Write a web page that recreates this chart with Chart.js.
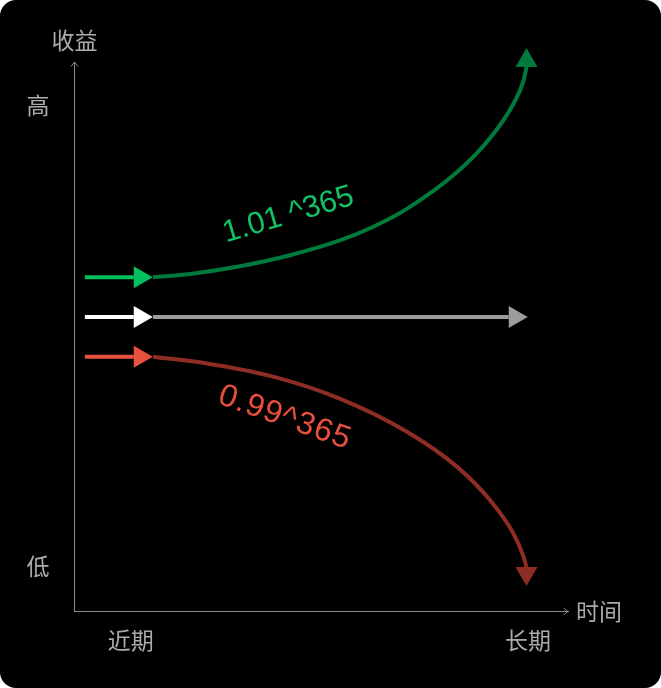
<!DOCTYPE html>
<html><head><meta charset="utf-8">
<script src="https://cdn.jsdelivr.net/npm/chart.js@4"></script>
<style>
html,body{margin:0;padding:0;background:#fff;}
#wrap{width:661px;height:688px;background:#000;border-radius:16px;overflow:hidden;}
canvas{display:block;}
</style></head><body>
<div id="wrap"><canvas id="c" width="661" height="688"></canvas></div>
<script>
// ---- data (time 0-100 on x, return 0-100 on y) ----
const xTitle = '时间';
const yTitle = '收益';
const xTickLabels = ['近期', '长期'];
const xTickValues = [11.5, 91.9];
const yTickLabels = ['高', '低'];
const yTickValues = [92.2, 8.2];

const leadX = [2.2, 12.1];
const upLevel = 60.8;
const flatLevel = 53.55;
const downLevel = 46.3;

const upX = [16.0, 23.5, 33.6, 43.7, 53.8, 60.6, 67.3, 77.5, 84.2, 88.9, 91.0, 91.6];
const upY = [60.8, 61.4, 62.8, 64.8, 67.5, 70.0, 73.2, 79.9, 86.1, 92.3, 96.6, 99.1];
const flatX = [16.0, 88.0];
const downX = [16.0, 26.9, 40.3, 53.8, 67.3, 77.5, 84.2, 88.9, 91.0, 91.6];
const downY = [46.3, 45.1, 42.7, 38.7, 32.7, 26.3, 20.2, 14.2, 9.9, 8.0];

const upLabel = '1.01 ^365';
const downLabel = '0.99^365';
const upLabelAt = [43.4, 72.1];
const downLabelAt = [42.65, 35.2];

// ---- build datasets ----
const pts = (xs, ys) => xs.map((x, i) => ({x, y: Array.isArray(ys) ? ys[i] : ys}));
const lineDs = (data, color, arrowDir, extra) => Object.assign({
  data, borderColor: color, backgroundColor: color, borderWidth: 4,
  showLine: true, pointRadius: 0, pointHoverRadius: 0, clip: false,
  arrowDir, arrowColor: color
}, extra || {});

const GREEN_LEAD = '#00c05e', GREEN = '#007a3c';
const WHITE = '#ffffff', GRAY = '#9c9c9c';
const RED_LEAD = '#e8503f', RED = '#8e2d24';
const AXIS = '#8a8a8a', LABEL = '#ababab';

const datasets = [
  lineDs(pts(upX, upY), GREEN, -90, {cubicInterpolationMode: 'monotone'}),
  lineDs(pts(flatX, flatLevel), GRAY, 0),
  lineDs(pts(downX, downY), RED, 90, {cubicInterpolationMode: 'monotone'}),
  lineDs(pts(leadX, upLevel), GREEN_LEAD, 0),
  lineDs(pts(leadX, flatLevel), WHITE, 0),
  lineDs(pts(leadX, downLevel), RED_LEAD, 0)
];

const decor = {
  id: 'decor',
  afterDatasetsDraw(chart) {
    const ctx = chart.ctx;
    const xs = chart.scales.x, ys = chart.scales.y;
    const a = chart.chartArea;
    ctx.save();
    // arrowheads at line ends
    chart.data.datasets.forEach((ds, i) => {
      const meta = chart.getDatasetMeta(i);
      const last = meta.data[meta.data.length - 1];
      const ang = ds.arrowDir * Math.PI / 180;
      const len = 19, half = 11;
      const bx = last.x, by = last.y;
      const tx = bx + Math.cos(ang) * len, ty = by + Math.sin(ang) * len;
      const px = -Math.sin(ang) * half, py = Math.cos(ang) * half;
      ctx.beginPath();
      ctx.moveTo(tx, ty);
      ctx.lineTo(bx + px, by + py);
      ctx.lineTo(bx - px, by - py);
      ctx.closePath();
      ctx.fillStyle = ds.arrowColor;
      ctx.fill();
    });
    // axis arrow chevrons
    ctx.strokeStyle = AXIS;
    ctx.lineWidth = 1;
    const l = Math.round(a.left) + 0.5, t = a.top, b = Math.round(a.bottom) + 0.5, r = a.right;
    ctx.beginPath();
    ctx.moveTo(l - 3.5, t + 4.5); ctx.lineTo(l, t); ctx.lineTo(l + 3.5, t + 4.5);
    ctx.moveTo(r - 4.5, b - 3.5); ctx.lineTo(r, b); ctx.lineTo(r - 4.5, b + 3.5);
    ctx.stroke();
    // axis labels
    ctx.fillStyle = LABEL;
    ctx.font = '23px "Noto Sans CJK SC"';
    ctx.textAlign = 'center';
    ctx.textBaseline = 'middle';
    ctx.fillText(yTitle, l, t - 22);
    ctx.fillText(xTitle, r + 31, b);
    xTickLabels.forEach((s, i) => ctx.fillText(s, xs.getPixelForValue(xTickValues[i]), b + 29));
    yTickLabels.forEach((s, i) => ctx.fillText(s, l - 36.5, ys.getPixelForValue(yTickValues[i])));
    // curve labels
    const drawRot = (txt, at, deg, color, size, spacing) => {
      ctx.save();
      ctx.translate(xs.getPixelForValue(at[0]), ys.getPixelForValue(at[1]));
      ctx.rotate(deg * Math.PI / 180);
      ctx.fillStyle = color;
      ctx.font = size + 'px "Liberation Sans", Arial, sans-serif';
      try { ctx.letterSpacing = spacing + 'px'; } catch (e) {}
      ctx.fillText(txt, 0, 0);
      ctx.restore();
    };
    drawRot(upLabel, upLabelAt, -16.5, '#12c264', 31, 0);
    drawRot(downLabel, downLabelAt, 19.5, '#ea4f3e', 32, 1);
    ctx.restore();
  }
};

new Chart(document.getElementById('c'), {
  type: 'scatter',
  data: {datasets},
  options: {
    responsive: false,
    animation: false,
    events: [],
    layout: {padding: {left: 74, top: 62, right: 93, bottom: 77}},
    plugins: {legend: {display: false}, tooltip: {enabled: false}},
    scales: {
      x: {type: 'linear', min: 0, max: 100,
          grid: {display: false, drawTicks: false},
          ticks: {display: false},
          border: {display: true, color: AXIS, width: 1}},
      y: {type: 'linear', min: 0, max: 100,
          grid: {display: false, drawTicks: false},
          ticks: {display: false},
          border: {display: true, color: AXIS, width: 1}}
    }
  },
  plugins: [decor]
});
</script>
</body></html>
